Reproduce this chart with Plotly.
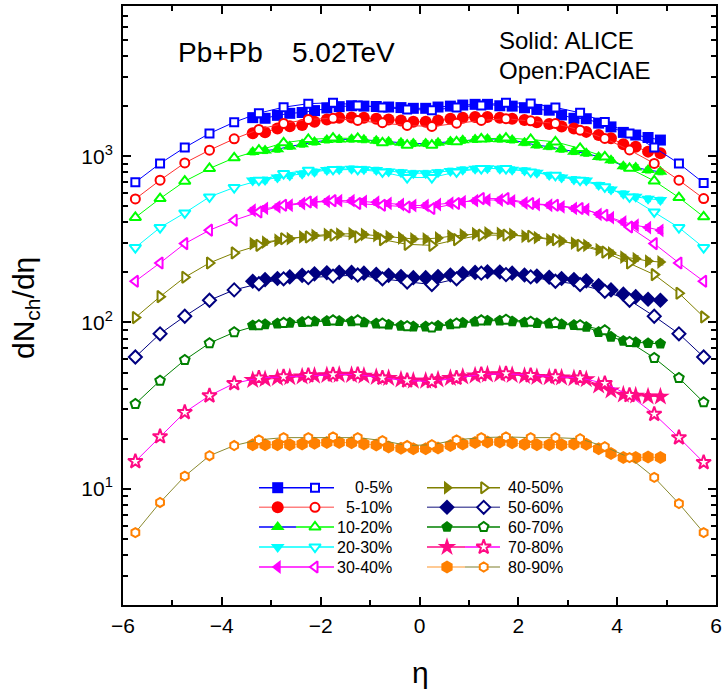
import plotly.graph_objects as go

# ---------------- data ----------------
centralities = ["0-5%", "5-10%", "10-20%", "20-30%", "30-40%",
                "40-50%", "50-60%", "60-70%", "70-80%", "80-90%"]

eta_alice = [-3.375, -3.125, -2.875, -2.625, -2.375, -2.125, -1.875, -1.625,
             -1.375, -1.125, -0.875, -0.625, -0.375, -0.125, 0.125, 0.375,
             0.625, 0.875, 1.125, 1.375, 1.625, 1.875, 2.125, 2.375, 2.625,
             2.875, 3.125, 3.375, 3.625, 3.875, 4.125, 4.375, 4.625, 4.875]

eta_paciae = [-5.75, -5.25, -4.75, -4.25, -3.75, -3.25, -2.75, -2.25, -1.75,
              -1.25, -0.75, -0.25, 0.25, 0.75, 1.25, 1.75, 2.25, 2.75, 3.25,
              3.75, 4.25, 4.75, 5.25, 5.75]

alice_0_5 = [1705, 1690, 1760, 1810, 1830, 1880, 1950, 1985, 2010, 2000, 1990,
             1975, 1960, 1940, 1940, 1975, 2000, 2030, 2050, 2050, 2010, 2000,
             1955, 1910, 1890, 1770, 1690, 1680, 1580, 1500, 1390, 1340, 1295, 1250]
alice_5_10 = [1375, 1395, 1465, 1515, 1540, 1610, 1660, 1700, 1710, 1700, 1680,
              1660, 1640, 1610, 1610, 1640, 1680, 1700, 1720, 1720, 1700, 1680,
              1650, 1600, 1560, 1510, 1465, 1400, 1340, 1280, 1180, 1140, 1065, 1040]
alice_10_20 = [1060, 1080, 1100, 1145, 1180, 1215, 1250, 1260, 1265, 1255, 1240,
               1220, 1205, 1190, 1190, 1205, 1225, 1245, 1260, 1270, 1265, 1250,
               1205, 1165, 1140, 1100, 1065, 1040, 990, 945, 870, 855, 825, 805]
alice_20_30 = [715, 720, 745, 765, 785, 805, 825, 835, 840, 835, 825, 810, 800,
               790, 790, 800, 815, 830, 840, 845, 840, 830, 820, 795, 770, 745,
               725, 715, 670, 630, 595, 570, 555, 545]
alice_30_40 = [473, 485, 496, 507, 519, 528, 535, 540, 540, 535, 528, 520, 512,
               505, 505, 512, 522, 532, 540, 545, 545, 538, 523, 512, 507, 496,
               485, 478, 447, 427, 402, 384, 372, 358]
alice_40_50 = [298, 304, 312, 319, 327, 334, 338, 340, 342, 338, 333, 328, 322,
               318, 318, 322, 330, 336, 342, 345, 343, 338, 330, 324, 315, 309,
               300, 291, 274, 262, 247, 242, 234, 231]
alice_50_60 = [177, 181, 184, 188, 192, 196, 199, 200, 200, 198, 195, 192, 189,
               186, 186, 189, 193, 197, 200, 202, 201, 198, 193, 190, 187, 184,
               181, 178, 167, 157, 148, 143, 138, 136]
alice_60_70 = [96, 97.5, 98.5, 99.5, 100.5, 101.5, 102, 102, 101.5, 100, 98.5,
               97, 95.5, 94.5, 94.5, 95.5, 97.5, 99.5, 101, 102.5, 102.5, 101.5,
               100, 99, 98.5, 97.5, 96.5, 94, 87.5, 82, 77.5, 76, 75, 74.5]
alice_70_80 = [45, 45.6, 46.3, 46.8, 47.3, 47.8, 48.2, 48.5, 48.3, 47.8, 47,
               46.3, 45.3, 44.6, 44.6, 45.4, 46.3, 47.2, 48, 48.6, 48.8, 48.3,
               47.6, 47, 46.8, 46.6, 46.2, 45.5, 41.7, 39, 36.8, 36.3, 35.9, 35.8]
alice_80_90 = [18.4, 18.4, 18.4, 18.4, 18.6, 18.8, 19, 19, 18.9, 18.6, 18.3,
               17.8, 17.5, 17.4, 17.4, 17.6, 18.2, 18.6, 19, 19.1, 19.1, 18.9,
               18.5, 18.4, 18.4, 18.4, 18.6, 18.5, 17.4, 16.3, 15.4, 15.4, 15.5, 15.4]

paciae_0_5 = [697, 904, 1128, 1370, 1600, 1815, 1970, 2070, 2095, 2020, 1965,
              1911, 1892, 1965, 2020, 2095, 2077, 1965, 1823, 1603, 1370, 1128, 904, 690]
paciae_5_10 = [553, 717, 911, 1087, 1271, 1449, 1574, 1664, 1690, 1640, 1590,
               1530, 1510, 1580, 1640, 1680, 1631, 1574, 1434, 1278, 1090, 904, 717, 556]
paciae_10_20 = [428, 556, 707, 843, 977, 1087, 1203, 1260, 1285, 1278, 1203,
                1165, 1165, 1220, 1270, 1285, 1260, 1219, 1113, 990, 845, 710, 564, 432]
paciae_20_30 = [282, 372, 456, 569, 648, 717, 786, 824, 832, 832, 804, 744, 744,
                804, 843, 843, 804, 768, 717, 654, 569, 462, 372, 282]
paciae_30_40 = [177, 228, 298, 359, 412, 462, 507, 530, 540, 519, 507, 495, 485,
                519, 556, 556, 519, 507, 485, 441, 375, 298, 228, 177]
paciae_40_50 = [107, 143, 187, 228, 262, 291, 319, 327, 335, 327, 315, 295, 291,
                315, 335, 335, 330, 315, 291, 265, 228, 194, 150, 108]
paciae_50_60 = [62, 85.5, 109, 136, 157, 171, 183, 186, 190, 193, 183, 175, 169,
                183, 198, 194, 188, 177, 169, 154, 136, 109, 85.5, 62]
paciae_60_70 = [32.4, 44.7, 59.5, 75.1, 87.3, 96.4, 99.5, 101, 103, 103, 98.6,
                95, 93.3, 98.6, 103, 104, 101, 99.5, 96.4, 89.7, 76.3, 61.2, 46.4, 33.1]
paciae_70_80 = [14.6, 20.6, 28.8, 36.3, 43, 46.4, 47.2, 48, 48.5, 48.7, 46.4,
                44.7, 44.2, 46.4, 48.7, 49.2, 48, 47.2, 46.4, 43, 36.5, 28.1, 20.3, 14.4]
paciae_80_90 = [5.45, 8.27, 11.9, 15.8, 18.2, 19.7, 20.3, 20.3, 20.5, 20.3, 19.5,
                18.2, 18.4, 19.7, 20.3, 20.5, 20.3, 20.3, 20, 17.9, 15.4, 11.7, 8.15, 5.45]

alice_series = [alice_0_5, alice_5_10, alice_10_20, alice_20_30, alice_30_40,
                alice_40_50, alice_50_60, alice_60_70, alice_70_80, alice_80_90]
paciae_series = [paciae_0_5, paciae_5_10, paciae_10_20, paciae_20_30, paciae_30_40,
                 paciae_40_50, paciae_50_60, paciae_60_70, paciae_70_80, paciae_80_90]

# ---------------- styles ----------------
marker_colors = ["#0000FF", "#FF0000", "#00FF00", "#00FFFF", "#FF00FF",
                 "#808000", "#000080", "#008000", "#FF0A84", "#FF8000"]
alice_line_colors = ["#0000FF", "#FF3030", "#0000FF", "#00FFFF", "#FF00FF",
                     "#808000", "#000080", "#008000", "#FF0A84", "#FFA850"]
paciae_line_colors = ["#0000FF", "#FF3030", "#00FF00", "#00FFFF", "#FF00FF",
                      "#808000", "#000080", "#008000", "#FF00FF", "#8A8A30"]
legend_alice_line = ["#0000FF", "#FF8080", "#0000FF", "#00FFFF", "#FF00FF",
                     "#808000", "#6060A8", "#008000", "#FF0A84", "#FFB870"]
legend_paciae_line = ["#0000FF", "#FF8080", "#00FF00", "#00FFFF", "#FF00FF",
                      "#808000", "#6060A8", "#008000", "#FF00FF", "#A8A870"]
symbols = ["square", "circle", "triangle-up", "triangle-down", "triangle-left",
           "triangle-right", "diamond", "pentagon", "star", "hexagon"]
filled_sizes = [11, 12, 12, 12, 12, 12, 12, 12, 14, 13]
open_sizes = [8, 9, 10, 10, 10, 10, 10, 10, 11, 9]

FONT = "Liberation Sans, Arial, sans-serif"

fig = go.Figure()

for i, name in enumerate(centralities):
    fig.add_trace(go.Scatter(
        x=eta_alice, y=alice_series[i], mode="lines+markers",
        name=name + " ALICE", showlegend=False,
        line=dict(color=alice_line_colors[i], width=1),
        marker=dict(symbol=symbols[i], size=filled_sizes[i], color=marker_colors[i],
                    line=dict(width=0)),
        error_y=dict(type="percent", value=4, color=marker_colors[i],
                     thickness=1, width=3),
    ))

for i, name in enumerate(centralities):
    fig.add_trace(go.Scatter(
        x=eta_paciae, y=paciae_series[i], mode="lines+markers",
        name=name + " PACIAE", showlegend=False,
        line=dict(color=paciae_line_colors[i], width=1),
        marker=dict(symbol=symbols[i], size=open_sizes[i], color="white",
                    line=dict(color=marker_colors[i], width=2)),
    ))

# ---------------- layout geometry ----------------
W, H = 724, 697
L, R, T, B = 123, 716, 6, 605


def px_x(px):
    return (px - L) / (R - L)


def px_y(py):
    return (B - py) / (B - T)


# custom legend (two markers per entry) on a hidden overlay axis
rows_y = [487.7, 507.3, 527.0, 547.0, 567.0]
cols = [dict(x0=259, xm=296, x1=334, xf=277.7, xo=315.0, xt=394, anchor="right"),
        dict(x0=427, xm=465, x1=500, xf=447.0, xo=483.7, xt=506, anchor="left")]
shapes = []
annotations = []
for i, name in enumerate(centralities):
    c = cols[i // 5]
    yy = px_y(rows_y[i % 5])
    shapes.append(dict(type="line", xref="paper", yref="paper", layer="below",
                       x0=px_x(c["x0"]), x1=px_x(c["xm"]), y0=yy, y1=yy,
                       line=dict(color=legend_alice_line[i], width=1.5)))
    shapes.append(dict(type="line", xref="paper", yref="paper", layer="below",
                       x0=px_x(c["xm"]), x1=px_x(c["x1"]), y0=yy, y1=yy,
                       line=dict(color=legend_paciae_line[i], width=1.5)))
    fig.add_trace(go.Scatter(
        x=[px_x(c["xf"])], y=[yy], xaxis="x2", yaxis="y2", mode="markers",
        showlegend=False, hoverinfo="skip",
        marker=dict(symbol=symbols[i], size=filled_sizes[i], color=marker_colors[i],
                    line=dict(width=0))))
    fig.add_trace(go.Scatter(
        x=[px_x(c["xo"])], y=[yy], xaxis="x2", yaxis="y2", mode="markers",
        showlegend=False, hoverinfo="skip",
        marker=dict(symbol=symbols[i], size=open_sizes[i], color="white",
                    line=dict(color=marker_colors[i], width=2))))
    annotations.append(dict(text=name, xref="paper", yref="paper",
                            x=px_x(c["xt"]), y=yy, xanchor=c["anchor"],
                            yanchor="middle", showarrow=False,
                            font=dict(family=FONT, size=16, color="black")))

# text labels
annotations += [
    dict(text="Pb+Pb", xref="paper", yref="paper", x=px_x(176), y=px_y(52),
         xanchor="left", yanchor="middle", showarrow=False,
         font=dict(family=FONT, size=28, color="black")),
    dict(text="5.02TeV", xref="paper", yref="paper", x=px_x(290), y=px_y(52),
         xanchor="left", yanchor="middle", showarrow=False,
         font=dict(family=FONT, size=28, color="black")),
    dict(text="Solid: ALICE", xref="paper", yref="paper", x=px_x(497), y=px_y(41),
         xanchor="left", yanchor="middle", showarrow=False,
         font=dict(family=FONT, size=24, color="black")),
    dict(text="Open:PACIAE", xref="paper", yref="paper", x=px_x(497), y=px_y(70),
         xanchor="left", yanchor="middle", showarrow=False,
         font=dict(family=FONT, size=24, color="black")),
    dict(text="dN<sub>ch</sub>/dη", xref="paper", yref="paper", x=px_x(25),
         y=px_y(308), xanchor="center", yanchor="middle", textangle=-90,
         showarrow=False, font=dict(family=FONT, size=30, color="black")),
    dict(text="η", xref="paper", yref="paper", x=px_x(420), y=px_y(672),
         xanchor="center", yanchor="middle", showarrow=False,
         font=dict(family=FONT, size=30, color="black")),
]

y_major = [10, 100, 1000]
y_major_text = ["10<sup>1</sup>", "10<sup>2</sup>", "10<sup>3</sup>"]
y_minor = [m * d for d in (1, 10, 100, 1000) for m in range(2, 10) if m * d <= 8000]

fig.update_layout(
    template="none",
    width=W, height=H,
    margin=dict(l=L, r=W - R, t=T, b=H - B, pad=0),
    paper_bgcolor="white", plot_bgcolor="white",
    font=dict(family=FONT, color="black"),
    showlegend=False,
    shapes=shapes, annotations=annotations,
    xaxis=dict(range=[-6, 6], tickmode="linear", tick0=-6, dtick=2,
               automargin=False,
               ticks="inside", ticklen=8, tickwidth=2, tickcolor="black",
               showline=True, linewidth=2, linecolor="black", mirror="ticks",
               showgrid=False, zeroline=False,
               tickfont=dict(family=FONT, size=21, color="black"),
               ticklabelstandoff=1,
               minor=dict(tickmode="linear", tick0=-5, dtick=1, ticks="inside",
                          ticklen=5, tickwidth=1.5, tickcolor="black", showgrid=False)),
    yaxis=dict(type="log", range=[0.30103, 3.90309],
               automargin=False,
               tickmode="array", tickvals=y_major, ticktext=y_major_text,
               ticks="inside", ticklen=8, tickwidth=2, tickcolor="black",
               showline=True, linewidth=2, linecolor="black", mirror="ticks",
               showgrid=False, zeroline=False,
               tickfont=dict(family=FONT, size=21, color="black"),
               ticklabelstandoff=4,
               minor=dict(tickmode="array", tickvals=y_minor, ticks="inside",
                          ticklen=5, tickwidth=1.5, tickcolor="black", showgrid=False)),
    xaxis2=dict(overlaying="x", range=[0, 1], visible=False, fixedrange=True,
                automargin=False),
    yaxis2=dict(overlaying="y", range=[0, 1], visible=False, fixedrange=True,
                automargin=False),
)

fig.write_html("out.html",
               config={"displayModeBar": False},
               post_script="document.body.style.margin='0px';"
                           "document.body.style.padding='0px';")
